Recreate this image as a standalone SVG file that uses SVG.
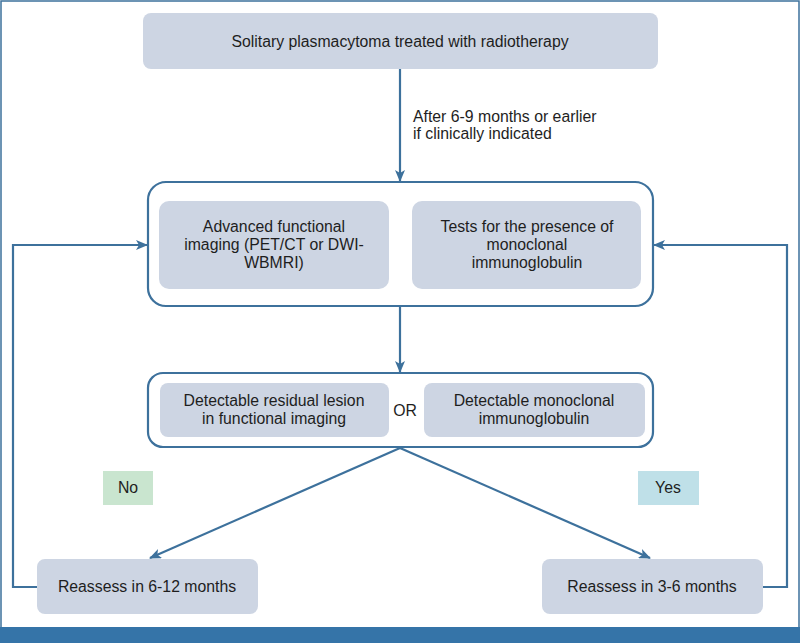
<svg xmlns="http://www.w3.org/2000/svg" width="800" height="643" viewBox="0 0 800 643">
<defs>
<style>
.box{fill:#cdd5e3;}
.cont{fill:#fff;stroke:#3d719c;stroke-width:2.2;}
.ln{fill:none;stroke:#3d719c;stroke-width:2.2;}
text{font-family:"Liberation Sans",Arial,sans-serif;font-size:15.8px;fill:#1e1e1e;text-anchor:middle;}
.lt{text-anchor:start;}
</style>
<marker id="ah" viewBox="0 0 12 10" refX="11" refY="5" markerWidth="12" markerHeight="10" markerUnits="userSpaceOnUse" orient="auto">
<path d="M0,0 L12,5 L0,10 L3,5 Z" fill="#3d719c"/>
</marker>
</defs>
<rect x="0" y="0" width="800" height="643" fill="#fff"/>
<rect x="1" y="1" width="798" height="627" fill="none" stroke="#3d719c" stroke-width="1.5"/>
<rect x="0" y="627" width="800" height="16" fill="#3574a8"/>

<g id="connectors">
<line class="ln" x1="400" y1="69" x2="400" y2="181" marker-end="url(#ah)"/>
<line class="ln" x1="400" y1="307" x2="400" y2="372" marker-end="url(#ah)"/>
<line class="ln" x1="400" y1="448" x2="150" y2="558" marker-end="url(#ah)"/>
<line class="ln" x1="400" y1="448" x2="650" y2="558" marker-end="url(#ah)"/>
<polyline class="ln" points="37,587 13,587 13,245 147,245" marker-end="url(#ah)"/>
<polyline class="ln" points="763,587 787,587 787,245 654,245" marker-end="url(#ah)"/>
<text class="lt" x="413" y="122">After 6-9 months or earlier</text>
<text class="lt" x="413" y="139">if clinically indicated</text>
</g>

<g id="start">
<rect class="box" x="143" y="13" width="515" height="56" rx="8"/>
<text x="400" y="47">Solitary plasmacytoma treated with radiotherapy</text>
</g>

<g id="assessment">
<rect class="cont" x="148" y="182" width="505" height="124" rx="18"/>
<g id="imaging">
<rect class="box" x="159" y="201" width="230" height="88" rx="10"/>
<text x="274" y="232">Advanced functional</text>
<text x="274" y="250">imaging (PET/CT or DWI-</text>
<text x="274" y="268">WBMRI)</text>
</g>
<g id="tests">
<rect class="box" x="412" y="201" width="229" height="88" rx="10"/>
<text x="527" y="232">Tests for the presence of</text>
<text x="527" y="250">monoclonal</text>
<text x="527" y="268">immunoglobulin</text>
</g>
</g>

<g id="detect">
<rect class="cont" x="148" y="373" width="505" height="74" rx="15"/>
<g id="lesion">
<rect class="box" x="160" y="383" width="229" height="54" rx="8"/>
<text x="274" y="406">Detectable residual lesion</text>
<text x="274" y="424">in functional imaging</text>
</g>
<text x="405" y="416">OR</text>
<g id="mono">
<rect class="box" x="424" y="383" width="221" height="54" rx="8"/>
<text x="534" y="406">Detectable monoclonal</text>
<text x="534" y="424">immunoglobulin</text>
</g>
</g>

<g id="no">
<rect x="103" y="471" width="50" height="34" fill="#c9e5cf"/>
<text x="128" y="493">No</text>
</g>
<g id="yes">
<rect x="638" y="471" width="61" height="34" fill="#bfe0e8"/>
<text x="668" y="493">Yes</text>
</g>

<g id="reassess612">
<rect class="box" x="37" y="559" width="221" height="55" rx="8"/>
<text x="147" y="592">Reassess in 6-12 months</text>
</g>
<g id="reassess36">
<rect class="box" x="542" y="559" width="221" height="55" rx="8"/>
<text x="652" y="592">Reassess in 3-6 months</text>
</g>
</svg>
